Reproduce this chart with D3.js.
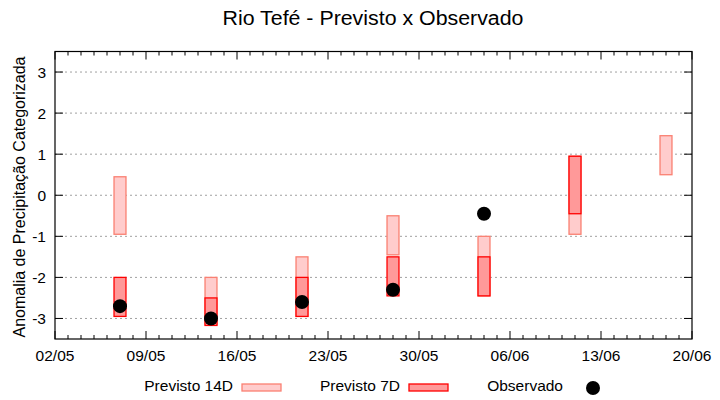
<!DOCTYPE html>
<html><head><meta charset="utf-8">
<script src="https://cdn.jsdelivr.net/npm/d3@7"></script>
<style>body{margin:0;background:#fff}svg{display:block;font-family:"Liberation Sans",Arial,sans-serif}</style>
</head><body><svg id="c" width="720" height="400"></svg>
<script>
const dates = ["2025-05-07","2025-05-14","2025-05-21","2025-05-28","2025-06-04","2025-06-11","2025-06-18"];
const p14Low  = [-0.95, -3.15, -2.95, -1.45, -2.45, -0.95, 0.5];
const p14High = [0.45, -2.0, -1.5, -0.5, -1.0, 0.95, 1.45];
const p7Low   = [-2.95, -3.17, -2.95, -2.45, -2.45, -0.45, null];
const p7High  = [-2.0, -2.5, -2.0, -1.5, -1.5, 0.95, null];
const obs     = [-2.7, -3.0, -2.6, -2.3, -0.45, null, null];
const yTicks = [-3,-2,-1,0,1,2,3];
const xStart = "2025-05-02", xEnd = "2025-06-20";

const svg = d3.select("#c");
const L=55, R=692, T=51.5, B=339;
const parse = s => new Date(s+"T00:00:00Z");
const DAY = 86400000;
const x = d3.scaleUtc().domain([parse(xStart), parse(xEnd)]).range([L,R]);
const y = d3.scaleLinear().domain([-3.5,3.5]).range([B,T]);

// grid
svg.append("g").selectAll("line").data(yTicks).join("line")
  .attr("x1",L).attr("x2",R).attr("y1",d=>y(d)).attr("y2",d=>y(d))
  .attr("stroke","#a0a0a0").attr("stroke-width",1).attr("stroke-dasharray","2,3");

// ticks
const endD = new Date(parse(xEnd).getTime()+1);
const majors = d3.utcDays(parse(xStart), endD, 7);
const minors = d3.utcDays(parse(xStart), endD, 1);
const tk = svg.append("g").attr("stroke","#000").attr("stroke-width",1);
minors.forEach(d=>{
  const isMaj = Math.round((d - parse(xStart))/DAY) % 7 === 0;
  const len = isMaj ? 8 : 4;
  tk.append("line").attr("x1",x(d)).attr("x2",x(d)).attr("y1",B).attr("y2",B-len);
  tk.append("line").attr("x1",x(d)).attr("x2",x(d)).attr("y1",T).attr("y2",T+len);
});
yTicks.forEach(v=>{
  tk.append("line").attr("x1",L).attr("x2",L+8).attr("y1",y(v)).attr("y2",y(v));
  tk.append("line").attr("x1",R).attr("x2",R-8).attr("y1",y(v)).attr("y2",y(v));
});

// labels
const fmt = d3.utcFormat("%d/%m");
svg.append("g").selectAll("text").data(majors).join("text")
  .attr("x",d=>x(d)).attr("y",B+22).attr("text-anchor","middle")
  .attr("font-size",15.5).attr("fill","#000").text(d=>fmt(d));
svg.append("g").selectAll("text").data(yTicks).join("text")
  .attr("x",L-9).attr("y",d=>y(d)+5.5).attr("text-anchor","end")
  .attr("font-size",15.5).attr("fill","#000").text(d=>d);

// bars
const half = 0.46*DAY;
const idx = d3.range(dates.length);
const bx0 = i => x(new Date(parse(dates[i]).getTime()-half));
const bx1 = i => x(new Date(parse(dates[i]).getTime()+half));
svg.append("g").selectAll("rect").data(idx.filter(i=>p14Low[i]!=null)).join("rect")
  .attr("x",bx0).attr("width",i=>bx1(i)-bx0(i))
  .attr("y",i=>y(p14High[i])).attr("height",i=>y(p14Low[i])-y(p14High[i]))
  .attr("fill","#ffcccc").attr("stroke","#fa8072").attr("stroke-width",1.3);
svg.append("g").selectAll("rect").data(idx.filter(i=>p7Low[i]!=null)).join("rect")
  .attr("x",bx0).attr("width",i=>bx1(i)-bx0(i))
  .attr("y",i=>y(p7High[i])).attr("height",i=>y(p7Low[i])-y(p7High[i]))
  .attr("fill","#ff9999").attr("stroke","#ff0000").attr("stroke-width",1.3);
svg.append("g").selectAll("circle").data(idx.filter(i=>obs[i]!=null)).join("circle")
  .attr("cx",i=>x(parse(dates[i]))).attr("cy",i=>y(obs[i])).attr("r",7).attr("fill","#000");

// frame
svg.append("rect").attr("x",L).attr("y",T).attr("width",R-L).attr("height",B-T)
  .attr("fill","none").attr("stroke","#000").attr("stroke-width",1.2);

// title & axis label
svg.append("text").attr("x",373).attr("y",25).attr("text-anchor","middle")
  .attr("font-size",20).attr("textLength",301).attr("lengthAdjust","spacingAndGlyphs")
  .attr("fill","#000").text("Rio Tefé - Previsto x Observado");
svg.append("text").attr("transform","translate(25,197) rotate(-90)").attr("text-anchor","middle")
  .attr("font-size",16).attr("fill","#000").text("Anomalia de Precipitação Categorizada");

// legend
const lg = svg.append("g").attr("font-size",15.5).attr("fill","#000");
lg.append("text").attr("x",233).attr("y",391).attr("text-anchor","end").text("Previsto 14D");
lg.append("rect").attr("x",242).attr("y",384).attr("width",39).attr("height",7).attr("fill","#ffcccc").attr("stroke","#fa8072").attr("stroke-width",1.3);
lg.append("text").attr("x",400).attr("y",391).attr("text-anchor","end").text("Previsto 7D");
lg.append("rect").attr("x",409).attr("y",384).attr("width",39).attr("height",7).attr("fill","#ff9999").attr("stroke","#ff0000").attr("stroke-width",1.3);
lg.append("text").attr("x",563).attr("y",391).attr("text-anchor","end").text("Observado");
lg.append("circle").attr("cx",593).attr("cy",388).attr("r",7).attr("fill","#000");
</script></body></html>
